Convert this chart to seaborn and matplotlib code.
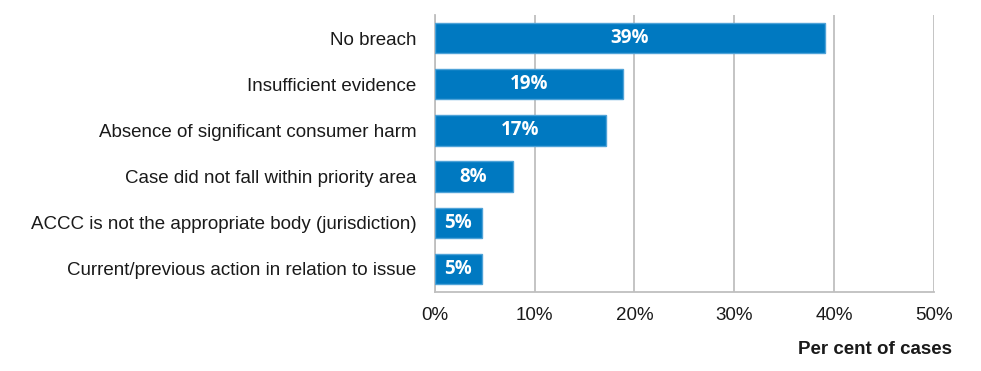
import matplotlib
matplotlib.use('Agg')
import matplotlib.pyplot as plt
import seaborn as sns
import pandas as pd

# reasons for closing cases
reasons = [
    'No breach',
    'Insufficient evidence',
    'Absence of significant consumer harm',
    'Case did not fall within priority area',
    'ACCC is not the appropriate body (jurisdiction)',
    'Current/previous action in relation to issue',
]
share = [39.1, 18.9, 17.2, 7.8, 4.7, 4.7]
share_labels = ['39%', '19%', '17%', '8%', '5%', '5%']
x_ticks = [0, 10, 20, 30, 40, 50]

sns.set_theme(style='white')
plt.rcParams['font.family'] = ['Liberation Sans', 'DejaVu Sans']

df = pd.DataFrame({'reason': reasons, 'share': share})

fig = plt.figure(figsize=(9.81, 3.71), dpi=100)
ax = fig.add_axes([0.4431, 0.2129, 0.9521 - 0.4431, 0.9596 - 0.2129])

sns.barplot(data=df, y='reason', x='share', orient='h', color='#0079C1',
            saturation=1, width=0.66, edgecolor='#4FA3D8', linewidth=1, ax=ax, zorder=3)

for i, (v, lab) in enumerate(zip(share, share_labels)):
    ax.text(v / 2, i, lab, ha='center', va='center', color='white',
            fontsize=13.5, fontweight='bold', family=['Open Sans', 'DejaVu Sans'], zorder=4)

ax.set_xlim(0, 50)
ax.set_ylim(5.5, -0.5)
ax.set_xticks(x_ticks)
ax.set_xticklabels([f'{t}%' for t in x_ticks], fontsize=13.5, color='#1a1a1a')
ax.tick_params(axis='y', labelsize=13.5, labelcolor='#1a1a1a', length=0, pad=13)
ax.tick_params(axis='x', length=0, pad=11)
ax.xaxis.grid(True, color='#BFBFBF', linewidth=1.3, zorder=0)
ax.set_ylabel('')
ax.set_xlabel('')
for side in ['top', 'right']:
    ax.spines[side].set_visible(False)
for side in ['left', 'bottom']:
    ax.spines[side].set_color('#BFBFBF')
    ax.spines[side].set_linewidth(1.3)

fig.text(952 / 981, 1 - 350 / 371, 'Per cent of cases', ha='right', va='center',
         fontsize=13.5, fontweight='bold', color='#1a1a1a')

fig.savefig('out.png', dpi=100)
